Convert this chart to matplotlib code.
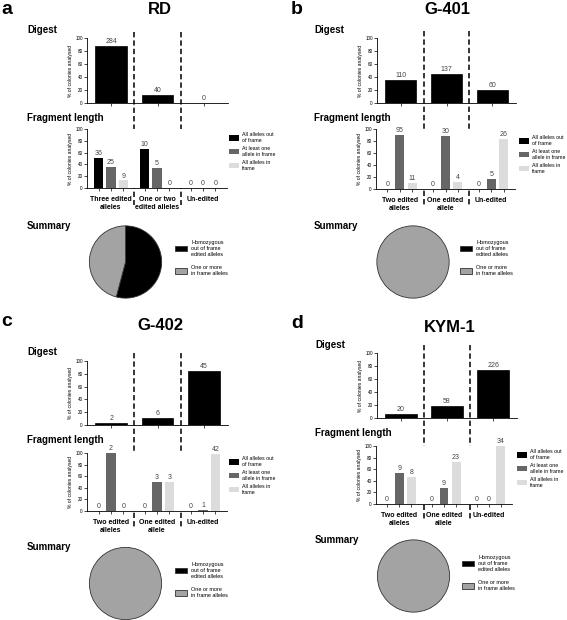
import matplotlib.pyplot as plt
from matplotlib.patches import Patch
from matplotlib.transforms import blended_transform_factory

plt.rcParams['font.family'] = ['Liberation Sans', 'DejaVu Sans']

# ---- data ----
panel_letters = ['a', 'b', 'c', 'd']
cell_lines = ['RD', 'G-401', 'G-402', 'KYM-1']
group_labels = [
    ['Three edited\nalleles', 'One or two\nedited alleles', 'Un-edited'],
    ['Two edited\nalleles', 'One edited\nallele', 'Un-edited'],
    ['Two edited\nalleles', 'One edited\nallele', 'Un-edited'],
    ['Two edited\nalleles', 'One edited\nallele', 'Un-edited'],
]
digest_counts = [[284, 40, 0], [110, 137, 60], [2, 6, 45], [20, 58, 226]]
all_out_of_frame = [[36, 10, 0], [0, 0, 0], [0, 0, 0], [0, 0, 0]]
one_in_frame = [[25, 5, 0], [95, 30, 5], [2, 3, 1], [9, 9, 0]]
all_in_frame = [[9, 0, 0], [11, 4, 26], [0, 3, 42], [8, 23, 34]]
summary_homozygous = [46, 0, 0, 0]
summary_in_frame = [39, 140, 8, 49]

frag_labels = ['All alleles out\nof frame', 'At least one\nallele in frame', 'All alleles in\nframe']
pie_labels = ['Homozygous\nout of frame\nedited alleles', 'One or more\nin frame alleles']

# ---- layout (pixels) ----
W, H = 567, 620
fig = plt.figure(figsize=(W / 100, H / 100), dpi=100)

layout = [
    # letter xy, title xy, column x, digest box, frag box, pie centre, dash y range, legend x, frag legend y, pie legend y
    dict(letter=(1, 10), title=(160, 10), col=27, dig=(87, 38, 228, 103), frag=(87, 129, 227, 188),
         heads=(30, 118, 226), pie=(125.5, 262), dash=(32, 205), fleg=(229, 132), pleg=(175, 240)),
    dict(letter=(291, 10), title=(447, 10), col=314, dig=(377, 38, 516, 103), frag=(376, 129, 515, 189),
         heads=(30, 118, 226), pie=(413, 262), dash=(31, 205), fleg=(519, 135), pleg=(460, 240)),
    dict(letter=(1, 321), title=(160, 325), col=27, dig=(87, 361, 228, 425), frag=(87, 453, 227, 511),
         heads=(352, 440, 547), pie=(125.5, 583.5), dash=(353, 528), fleg=(229, 456), pleg=(175, 562)),
    dict(letter=(291, 323), title=(450, 328), col=315, dig=(377, 353, 517, 418), frag=(376, 446, 512, 504),
         heads=(345, 433, 540), pie=(413.5, 576), dash=(345, 520), fleg=(517, 449), pleg=(462, 555)),
]

frag_colors = ['#000000', '#666666', '#dcdcdc']
pie_colors = ['#000000', '#a3a3a3']
val_color = '#444444'


def box(x0, y0, x1, y1):
    return [x0 / W, 1 - y1 / H, (x1 - x0) / W, (y1 - y0) / H]


def style_axis(ax):
    for s in ['top', 'right']:
        ax.spines[s].set_visible(False)
    for s in ['left', 'bottom']:
        ax.spines[s].set_linewidth(0.6)
    ax.set_ylim(0, 100)
    ax.set_xlim(-0.52, 2.52)
    ax.set_yticks([0, 20, 40, 60, 80, 100])
    ax.tick_params(axis='both', length=2, width=0.5, pad=1, labelsize=3.3)
    ax.set_ylabel('% of colonies analysed', fontsize=3.6, labelpad=2)


for i, L in enumerate(layout):
    fig.text(L['letter'][0] / W, 1 - L['letter'][1] / H, panel_letters[i], fontsize=14,
             fontweight='bold', va='center', ha='left')
    fig.text(L['title'][0] / W, 1 - L['title'][1] / H, cell_lines[i], fontsize=12,
             fontweight='bold', va='center', ha='center')
    for head, hy in zip(['Digest', 'Fragment length', 'Summary'], L['heads']):
        fig.text(L['col'] / W, 1 - hy / H, head, fontsize=7, fontweight='bold', va='center', ha='left')

    # digest
    ax = fig.add_axes(box(*L['dig']))
    style_axis(ax)
    counts = digest_counts[i]
    total = sum(counts)
    pct = [c / total * 100 for c in counts]
    ax.bar(range(3), pct, width=0.68, color='black', edgecolor='black', linewidth=0.5)
    for x, (p, c) in enumerate(zip(pct, counts)):
        ax.text(x, p + 1.5, str(c), ha='center', va='bottom', fontsize=5, color=val_color)
    ax.set_xticks(range(3))
    ax.set_xticklabels([])

    # fragment length
    axf = fig.add_axes(box(*L['frag']))
    style_axis(axf)
    series = [all_out_of_frame[i], one_in_frame[i], all_in_frame[i]]
    offsets = [-0.27, 0, 0.27]
    ticks = []
    handles = []
    for g in range(3):
        tot = sum(s[g] for s in series)
        for k, s in enumerate(series):
            p = s[g] / tot * 100 if tot else 0
            x = g + offsets[k]
            ticks.append(x)
            axf.bar(x, p, width=0.2, color=frag_colors[k], linewidth=0)
            axf.text(x, p + 1.5, str(s[g]), ha='center', va='bottom', fontsize=5, color=val_color)
    axf.set_xticks(ticks)
    axf.set_xticklabels([])
    trans = blended_transform_factory(axf.transData, axf.transAxes)
    for g in range(3):
        axf.text(g, -0.13, group_labels[i][g], transform=trans, ha='center', va='top',
                 fontsize=5, fontweight='bold', linespacing=1.2)
    handles = [Patch(facecolor=c, edgecolor='none') for c in frag_colors]
    fig.legend(handles, frag_labels, loc='upper left',
               bbox_to_anchor=(L['fleg'][0] / W, 1 - L['fleg'][1] / H),
               frameon=False, fontsize=3.8, handlelength=1.8, handleheight=1.3,
               handletextpad=0.6, labelspacing=0.6, borderpad=0, borderaxespad=0)

    # dashed separators spanning both bar charts
    dtrans = blended_transform_factory(ax.transData, fig.transFigure)
    for xd in [0.5, 1.5]:
        ax.plot([xd, xd], [1 - L['dash'][0] / H, 1 - L['dash'][1] / H], transform=dtrans,
                color='black', linewidth=1.1, linestyle=(0, (3.5, 2)), clip_on=False)

    # summary pie
    r = 36.5
    cx, cy = L['pie']
    axp = fig.add_axes(box(cx - r, cy - r, cx + r, cy + r))
    vals = [summary_homozygous[i], summary_in_frame[i]]
    keep = [(v, c) for v, c in zip(vals, pie_colors) if v > 0]
    axp.pie([v for v, _ in keep], colors=[c for _, c in keep], startangle=90, counterclock=False,
            wedgeprops=dict(edgecolor='#333333', linewidth=0.6))
    axp.set_xlim(-1.01, 1.01)
    axp.set_ylim(-1.01, 1.01)
    axp.set_aspect('equal')
    ph = [Patch(facecolor=c, edgecolor='#333333', linewidth=0.6) for c in pie_colors]
    fig.legend(ph, pie_labels, loc='upper left',
               bbox_to_anchor=(L['pleg'][0] / W, 1 - L['pleg'][1] / H),
               frameon=False, fontsize=4, handlelength=2.2, handleheight=1.1,
               handletextpad=0.7, labelspacing=1.6, borderpad=0, borderaxespad=0)

fig.savefig('out.png', dpi=100)
